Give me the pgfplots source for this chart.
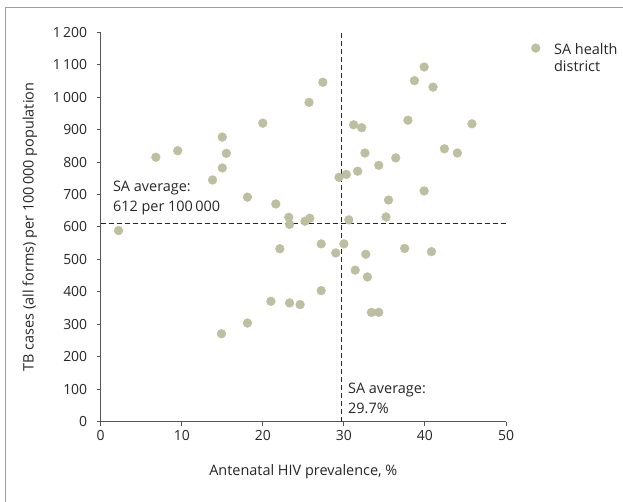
\documentclass[border=0pt]{standalone}
\usepackage{pgfplots}
\pgfplotsset{compat=1.18}
\usepackage{fontspec}
\setmainfont{Open Sans}
\definecolor{mk}{RGB}{190,190,160}
\definecolor{axc}{RGB}{85,85,85}
\pgfplotstableread{
x y
2.2 589
6.8 815
9.5 835
13.8 745
15.0 877
15.5 827
15.0 782
20.0 920
18.1 692
21.6 671
23.2 630
23.3 608
25.2 618
25.8 627
25.7 984
27.4 1046
29.4 753
30.3 762
31.7 772
30.6 622
31.2 915
32.2 906
32.6 828
34.3 790
36.4 813
35.5 683
35.2 631
37.9 929
38.7 1051
39.9 1093
41.0 1031
39.9 711
42.4 841
44.0 828
45.8 918
22.1 533
21.0 371
23.3 366
24.6 361
18.1 304
14.9 271
27.2 548
29.0 520
30.0 548
32.7 516
31.4 467
32.9 446
27.2 404
33.4 337
34.3 337
37.5 534
40.8 524
}\districts
\begin{document}
\begin{tikzpicture}[x=1bp,y=1bp]
\useasboundingbox (0,0) rectangle (623,502);
\draw[gray!75, line width=1bp] (5.7,-20) -- (5.7,494) -- (650,494);
\begin{axis}[
  at={(100.7bp,80.3bp)}, anchor=south west,
  scale only axis, width=405.3bp, height=389.4bp,
  xmin=0, xmax=50, ymin=0, ymax=1200,
  axis lines=left,
  axis line style={axc, line width=1.2bp, -},
  xtick={0,10,...,50}, ytick={0,100,...,1200},
  tick align=outside, major tick length=4bp,
  tick style={axc, line width=1bp},
  /pgf/number format/assume math mode=true,
  /pgf/number format/1000 sep={\,},
  ticklabel style={font=\fontsize{14}{16}\selectfont, text=black!85},
  yticklabel style={xshift=-6bp},
  xticklabel style={yshift=-1bp},
  xlabel={Antenatal HIV prevalence, \%},
  ylabel={TB cases (all forms) per 100\,000 population},
  label style={font=\fontsize{14.5}{16}\selectfont, text=black!85},
  xlabel style={at={(axis description cs:0.5,-0.1284)}, anchor=center},
  ylabel style={at={(axis description cs:-0.175,0.5)}, anchor=center},
  clip=false,
  legend image code/.code={\draw[#1] plot coordinates {(0bp,0.08em)};},
  legend style={draw=none, fill=none, at={(1.062,0.982)}, anchor=north west,
    inner sep=0pt, font=\fontsize{14.5}{19}\selectfont, text=black!85,
    column sep=12bp},
  legend cell align=left,
]
\addplot[only marks, mark=*, mark size=4.4bp, color=mk, mark options={fill=mk, draw=mk}] table {\districts};
\addlegendentry{\begin{tabular}[t]{@{}l@{}}SA health\\[-2bp]district\end{tabular}}
\addplot[black!85, line width=1bp, dash pattern=on 5bp off 3bp, forget plot] coordinates {(0,612) (50,612)};
\addplot[black!85, line width=1bp, dash pattern=on 5bp off 3bp, forget plot] coordinates {(29.7,0) (29.7,1200)};
\node[anchor=south west, align=left, font=\fontsize{14.5}{20}\selectfont, text=black!85, inner sep=0pt]
  at (axis cs:1.5,636) {SA average:\\612 per 100\,000};
\node[anchor=south west, align=left, font=\fontsize{14.5}{20}\selectfont, text=black!85, inner sep=0pt]
  at (axis cs:30.5,24) {SA average:\\29.7\%};
\end{axis}
\end{tikzpicture}
\end{document}
